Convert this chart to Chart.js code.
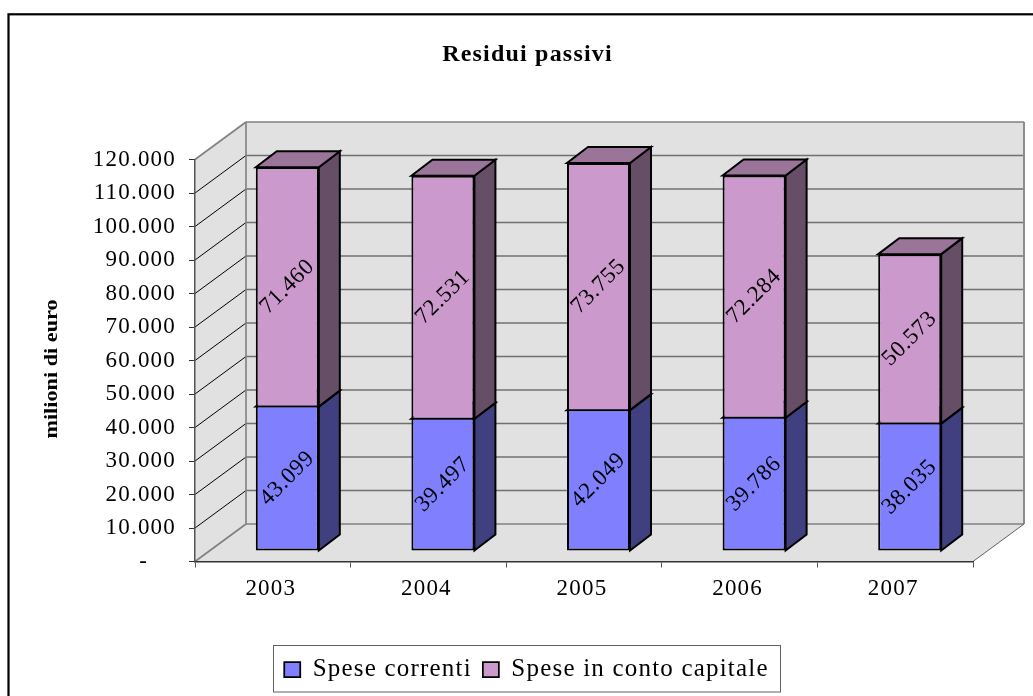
<!DOCTYPE html>
<html lang="it">

<head>
  <meta charset="UTF-8">
  <title>Residui passivi</title>
  <style>
    body {
      margin: 0;
      background: white;
    }

    canvas {
      display: block;
    }
  </style>
</head>

<body>
  <canvas id="residuiChart" width="1033" height="696"></canvas>

  <script src="https://cdn.jsdelivr.net/npm/chart.js"></script>
  <script>
    const years = ['2003', '2004', '2005', '2006', '2007'];
    const speseCorrenti = [43099, 39497, 42049, 39786, 38035];
    const speseCapitale = [71460, 72531, 73755, 72284, 50573];
    const yTickLabels = ['-    ', '10.000', '20.000', '30.000', '40.000', '50.000', '60.000',
      '70.000', '80.000', '90.000', '100.000', '110.000', '120.000'];

    const serif = 'Liberation Serif';
    const spacing = '1.2px';

    // 3D look: how far the back wall and the bars are pushed away from the front plane
    const wallDx = 51, wallDy = -37.5;
    const barDx = 14.5, barDy = -10.5;
    const sideDx = 21, sideDy = -16;

    function formatValue(v) {
      return String(v).replace(/\B(?=(\d{3})+$)/g, '.');
    }

    function poly(ctx, pts, fill, stroke, width) {
      ctx.beginPath();
      pts.forEach((p, i) => i ? ctx.lineTo(p[0], p[1]) : ctx.moveTo(p[0], p[1]));
      ctx.closePath();
      if (fill) {
        ctx.fillStyle = fill;
        ctx.fill();
      }
      if (stroke) {
        ctx.strokeStyle = stroke;
        ctx.lineWidth = width;
        ctx.stroke();
      }
    }

    function line(ctx, x1, y1, x2, y2, color, width) {
      ctx.beginPath();
      ctx.moveTo(x1, y1);
      ctx.lineTo(x2, y2);
      ctx.strokeStyle = color;
      ctx.lineWidth = width;
      ctx.stroke();
    }

    const sideColors = ['#404080', '#664E66'];
    const topColors = ['#6060A0', '#9A7599'];

    const box3d = {
      id: 'box3d',
      beforeUpdate(chart) {
        chart.ctx.letterSpacing = spacing;
      },
      afterLayout(chart) {
        // title and legend are not centred on the canvas in the original
        chart.titleBlock.left += 31;
        chart.titleBlock.right += 31;
        chart.legend.left += 30;
        chart.legend.right += 30;
      },
      beforeDraw(chart) {
        const ctx = chart.ctx;
        const a = chart.chartArea;
        const y = chart.scales.y;
        ctx.letterSpacing = spacing;

        // outer frame
        ctx.save();
        ctx.strokeStyle = '#000';
        ctx.lineWidth = 2.2;
        ctx.strokeRect(8.5, 14.3, 1100, 800);

        // walls and floor
        const l = a.left, r = a.right, t = a.top, b = a.bottom;
        poly(ctx, [[l, b], [l, t], [l + wallDx, t + wallDy], [l + wallDx, b + wallDy]], '#E1E1E1');
        poly(ctx, [[l + wallDx, t + wallDy], [r + wallDx, t + wallDy], [r + wallDx, b + wallDy], [l + wallDx, b + wallDy]], '#E1E1E1');
        poly(ctx, [[l, b], [r, b], [r + wallDx, b + wallDy], [l + wallDx, b + wallDy]], '#E1E1E1');

        y.ticks.forEach(tick => {
          const py = y.getPixelForValue(tick.value);
          if (tick.value > 0 && tick.value < 120000) {
            line(ctx, l, py, l + wallDx, py + wallDy, '#000', 1);
            line(ctx, l + wallDx, py + wallDy, r + wallDx, py + wallDy, '#707070', 1.6);
          }
        });
        line(ctx, l, t, l + wallDx, t + wallDy, '#808080', 1.6);
        line(ctx, l + wallDx, t + wallDy, r + wallDx, t + wallDy, '#808080', 1.6);
        line(ctx, l + wallDx, t + wallDy, l + wallDx, b + wallDy, '#808080', 1.6);
        line(ctx, r + wallDx, t + wallDy, r + wallDx, b + wallDy, '#8c8c8c', 2);
        line(ctx, l + wallDx, b + wallDy, r + wallDx, b + wallDy, '#808080', 1.6);
        line(ctx, l, b, l + wallDx, b + wallDy, '#808080', 1.6);
        line(ctx, r, b, r + wallDx, b + wallDy, '#606060', 1);

        // axis title, stretched along its length like the original
        ctx.translate(52, 369);
        ctx.rotate(-Math.PI / 2);
        ctx.scale(1.17, 1);
        ctx.font = 'bold 19px "' + serif + '"';
        ctx.fillStyle = '#000';
        ctx.textAlign = 'center';
        ctx.textBaseline = 'middle';
        ctx.letterSpacing = '0px';
        ctx.fillText('milioni di euro', 0, 0);
        ctx.restore();

        // legend frame
        ctx.save();
        ctx.strokeStyle = '#606060';
        ctx.lineWidth = 1;
        ctx.strokeRect(273.5, 645.5, 507, 46.5);
        ctx.restore();
      },
      beforeDatasetsDraw(chart) {
        const ctx = chart.ctx;
        ctx.save();
        ctx.translate(barDx, barDy);
        chart.data.datasets.forEach((ds, d) => {
          chart.getDatasetMeta(d).data.forEach(el => {
            const right = el.x + el.width / 2;
            const left = el.x - el.width / 2;
            poly(ctx, [[right, el.y], [right + sideDx, el.y + sideDy], [right + sideDx, el.base + sideDy], [right, el.base]],
              sideColors[d], '#000', 2);
            poly(ctx, [[left, el.y], [left + sideDx, el.y + sideDy], [right + sideDx, el.y + sideDy], [right, el.y]],
              topColors[d], '#000', 2);
          });
        });
      },
      afterDatasetsDraw(chart) {
        const ctx = chart.ctx;
        ctx.font = '23px "' + serif + '"';
        ctx.fillStyle = '#000';
        ctx.textAlign = 'center';
        ctx.textBaseline = 'middle';
        ctx.letterSpacing = '0.6px';
        chart.data.datasets.forEach((ds, d) => {
          chart.getDatasetMeta(d).data.forEach((el, i) => {
            ctx.save();
            ctx.translate(el.x, (el.y + el.base) / 2);
            ctx.rotate(-Math.PI / 4);
            ctx.fillText(formatValue(ds.data[i]), 0, 0);
            ctx.restore();
          });
        });
        ctx.restore();
        ctx.letterSpacing = spacing;
      }
    };

    new Chart(document.getElementById('residuiChart'), {
      type: 'bar',
      data: {
        labels: years,
        datasets: [{
          label: 'Spese correnti',
          data: speseCorrenti,
          backgroundColor: '#8080FF',
          borderColor: '#000',
          borderWidth: { top: 1, left: 2, right: 2, bottom: 2 },
          borderSkipped: false
        }, {
          label: 'Spese in conto capitale',
          data: speseCapitale,
          backgroundColor: '#CC99CC',
          borderColor: '#000',
          borderWidth: { top: 2, left: 2, right: 2, bottom: 1 },
          borderSkipped: false
        }]
      },
      options: {
        responsive: false,
        animation: false,
        barPercentage: 0.405,
        categoryPercentage: 1,
        layout: {
          autoPadding: false,
          padding: { left: 20, right: 60, top: 0, bottom: 4 }
        },
        plugins: {
          title: {
            display: true,
            text: 'Residui passivi',
            color: '#000',
            font: { family: serif, size: 24, weight: 'bold' },
            padding: { top: 40, bottom: 90.7 }
          },
          legend: {
            position: 'bottom',
            padding: 0,
            labels: {
              color: '#000',
              font: { family: serif, size: 25 },
              boxWidth: 16,
              boxHeight: 15,
              padding: 11
            }
          },
          tooltip: { enabled: false }
        },
        scales: {
          x: {
            stacked: true,
            afterFit(scale) { scale.height = 84.5; },
            grid: { offset: true, drawOnChartArea: false, tickLength: 6, color: '#555' },
            border: { color: '#333', width: 1.5 },
            ticks: {
              color: '#000',
              font: { family: serif, size: 23 },
              padding: 8,
              labelOffset: -2,
              maxRotation: 0
            }
          },
          y: {
            stacked: true,
            min: 0,
            max: 120000,
            afterFit(scale) { scale.width = 175; },
            grid: { drawOnChartArea: false, tickLength: 6, color: '#333' },
            border: { color: '#555', width: 1.5 },
            ticks: {
              stepSize: 10000,
              color: '#000',
              font: { family: serif, size: 23 },
              padding: 13,
              callback: (v, i) => yTickLabels[i]
            }
          }
        }
      },
      plugins: [box3d]
    });
  </script>
</body>

</html>
